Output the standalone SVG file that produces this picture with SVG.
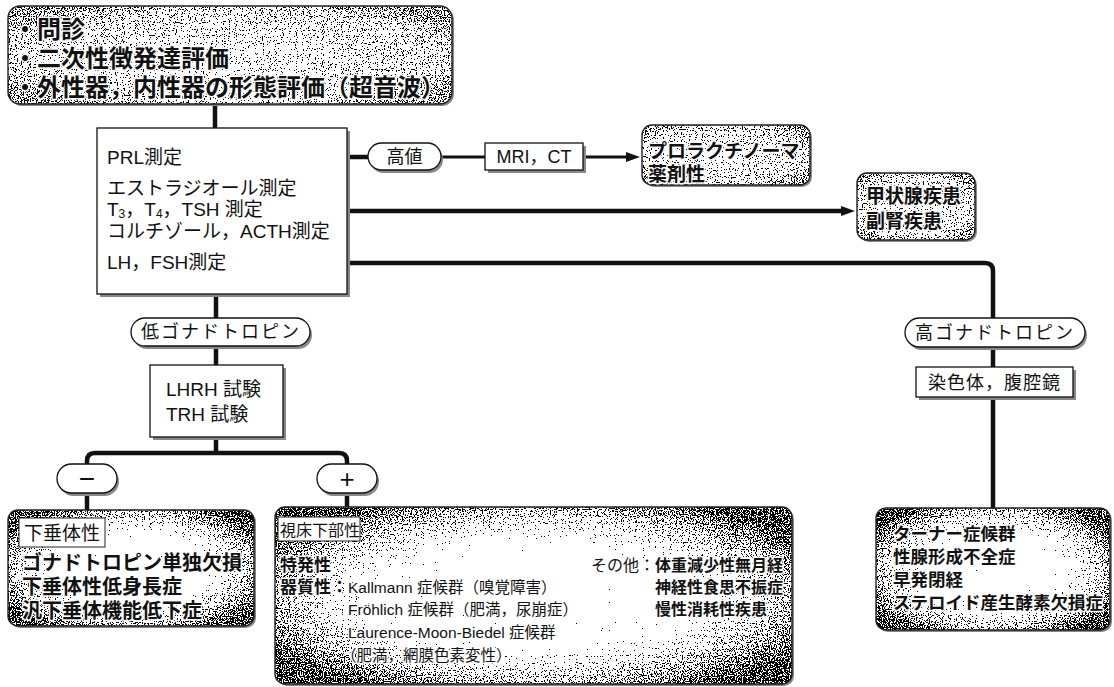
<svg xmlns="http://www.w3.org/2000/svg" width="1114" height="687" viewBox="0 0 1114 687">
<style>
text{font-family:"Liberation Sans","Noto Sans CJK JP",sans-serif;fill:#111}
.b{font-weight:bold}
.halo{stroke:#fff;stroke-width:3;paint-order:stroke;stroke-linejoin:round}
.box{fill:#fff;stroke:#111;stroke-width:1.3}
.shadow{fill:#888}
.frame{fill:none;stroke:#222;stroke-width:1.4}
.conn{fill:none;stroke:#111;stroke-width:4.5;stroke-linecap:butt}
.thin{stroke-width:3}
.mid{text-anchor:middle}
</style>
<defs>
<filter id="dither" x="0" y="0" width="1" height="1" color-interpolation-filters="sRGB">
<feTurbulence type="fractalNoise" baseFrequency="0.85" numOctaves="1" seed="4" result="n"/>
<feColorMatrix in="n" type="matrix" values="0 0 0 1.5 -0.25  0 0 0 1.5 -0.25  0 0 0 1.5 -0.25  0 0 0 0 1" result="nn"/>
<feComposite in="SourceGraphic" in2="nn" operator="arithmetic" k1="0" k2="1" k3="1" k4="-0.5" result="s"/>
<feComponentTransfer in="s" result="d">
<feFuncR type="discrete" tableValues="0 1"/>
<feFuncG type="discrete" tableValues="0 1"/>
<feFuncB type="discrete" tableValues="0 1"/>
<feFuncA type="linear" slope="0" intercept="1"/>
</feComponentTransfer>
<feComposite in="d" in2="SourceAlpha" operator="in"/>
</filter>
<radialGradient id="vigTop" cx="0.5" cy="0.5" r="0.6">
<stop offset="0" stop-color="#bababa"/>
<stop offset="0.8" stop-color="#a8a8a8"/>
<stop offset="1" stop-color="#8a8a8a"/>
</radialGradient>
<radialGradient id="vigBox" cx="0.5" cy="0.5" r="0.6">
<stop offset="0" stop-color="#ffffff"/>
<stop offset="0.45" stop-color="#eaeaea"/>
<stop offset="0.75" stop-color="#a8a8a8"/>
<stop offset="1" stop-color="#6c6c6c"/>
</radialGradient>
<marker id="arr" viewBox="0 0 14 10" refX="1" refY="5" markerWidth="14" markerHeight="10" markerUnits="userSpaceOnUse" orient="auto">
<path d="M0 0 L14 5 L0 10 Z" fill="#111"/>
</marker>
</defs>

<g id="connectors">
<path class="conn" d="M215 104 V128"/>
<path class="conn" d="M191 157 H368"/>
<path class="conn thin" d="M441 157 H485"/>
<path class="conn thin" d="M583 157 H627" marker-end="url(#arr)"/>
<path class="conn" d="M347 211 H842" marker-end="url(#arr)"/>
<path class="conn" d="M234 263 H985 Q993 263 993 271 V318"/>
<path class="conn" d="M993 347 V367"/>
<path class="conn" d="M993 397 V508"/>
<path class="conn" d="M216 294 V318"/>
<path class="conn" d="M216 346 V365"/>
<path class="conn" d="M216 437 V453"/>
<path class="conn" d="M87 464 V461 Q87 453 95 453 H339 Q347 453 347 461 V464"/>
<path class="conn" d="M87 493 V510"/>
<path class="conn" d="M347 493 V507"/>
</g>

<g id="n-top">
<rect x="10" y="8" width="444" height="98" rx="12" class="shadow"/>
<rect x="8" y="6" width="444" height="98" rx="12" fill="url(#vigTop)" filter="url(#dither)"/>
<rect x="8" y="6" width="444" height="98" rx="12" class="frame"/>
<text x="13" y="38" font-size="24" class="b halo">・問診</text>
<text x="13" y="67" font-size="24" class="b halo">・二次性徴発達評価</text>
<text x="13" y="96" font-size="24" class="b halo">・外性器，内性器の形態評価（超音波）</text>
</g>

<g id="n-measure">
<rect x="100" y="131" width="250" height="166" class="shadow"/>
<rect x="97" y="128" width="250" height="166" class="box"/>
<text x="107" y="164" font-size="19">PRL測定</text>
<text x="107" y="195" font-size="19">エストラジオール測定</text>
<text x="107" y="216" font-size="19">T<tspan font-size="12" dy="2">3</tspan><tspan dy="-2">，T</tspan><tspan font-size="12" dy="2">4</tspan><tspan dy="-2">，TSH 測定</tspan></text>
<text x="107" y="238" font-size="19">コルチゾール，ACTH測定</text>
<text x="107" y="269" font-size="19">LH，FSH測定</text>
</g>

<g id="n-high">
<rect x="370" y="146" width="73" height="27" rx="13.5" class="shadow"/>
<rect x="368" y="143" width="73" height="27" rx="13.5" class="box"/>
<text x="404.5" y="163" font-size="18" class="mid">高値</text>
</g>

<g id="n-mri">
<rect x="488" y="146" width="98" height="27" class="shadow"/>
<rect x="485" y="143" width="98" height="27" class="box"/>
<text x="534" y="163" font-size="18" class="mid">MRI，CT</text>
</g>

<g id="n-prolactinoma">
<rect x="644" y="127" width="168" height="60" rx="10" class="shadow"/>
<rect x="642" y="125" width="168" height="60" rx="10" fill="url(#vigTop)" filter="url(#dither)"/>
<rect x="642" y="125" width="168" height="60" rx="10" class="frame"/>
<text x="648" y="158" font-size="19" class="b halo">プロラクチノーマ</text>
<text x="648" y="181" font-size="19" class="b halo">薬剤性</text>
</g>

<g id="n-thyroid">
<rect x="859" y="175" width="118" height="67" rx="10" class="shadow"/>
<rect x="857" y="173" width="118" height="67" rx="10" fill="url(#vigTop)" filter="url(#dither)"/>
<rect x="857" y="173" width="118" height="67" rx="10" class="frame"/>
<text x="866" y="203" font-size="19" class="b halo">甲状腺疾患</text>
<text x="866" y="228" font-size="19" class="b halo">副腎疾患</text>
</g>

<g id="n-lowgn">
<rect x="133" y="321" width="179" height="28" rx="14" class="shadow"/>
<rect x="131" y="318" width="179" height="28" rx="14" class="box"/>
<text x="221" y="338" font-size="18" letter-spacing="2" class="mid">低ゴナドトロピン</text>
</g>

<g id="n-lhrh">
<rect x="153" y="368" width="133" height="72" class="shadow"/>
<rect x="150" y="365" width="133" height="72" class="box"/>
<text x="166" y="396" font-size="19">LHRH 試験</text>
<text x="166" y="421" font-size="19">TRH 試験</text>
</g>

<g id="n-minus">
<rect x="59" y="467" width="60" height="29" rx="14.5" class="shadow"/>
<rect x="57" y="464" width="60" height="29" rx="14.5" class="box"/>
<text x="87" y="488" font-size="28" class="mid">−</text>
</g>

<g id="n-plus">
<rect x="319" y="467" width="60" height="29" rx="14.5" class="shadow"/>
<rect x="317" y="464" width="60" height="29" rx="14.5" class="box"/>
<text x="347" y="488" font-size="26" class="mid">+</text>
</g>

<g id="n-pituitary">
<rect x="10" y="512" width="246" height="116" rx="10" class="shadow"/>
<rect x="8" y="510" width="246" height="116" rx="10" fill="url(#vigBox)" filter="url(#dither)"/>
<rect x="8" y="510" width="246" height="116" rx="10" class="frame"/>
<rect x="19" y="518" width="86" height="29" fill="#fff" stroke="#222" stroke-width="1"/>
<text x="24" y="540" font-size="19">下垂体性</text>
<text x="22" y="570" font-size="20" class="b halo">ゴナドトロピン単独欠損</text>
<text x="22" y="594" font-size="20" class="b halo">下垂体性低身長症</text>
<text x="22" y="618" font-size="20" class="b halo">汎下垂体機能低下症</text>
</g>

<g id="n-hypothalamic">
<rect x="277" y="509" width="517" height="177" rx="10" class="shadow"/>
<rect x="275" y="507" width="517" height="177" rx="10" fill="url(#vigBox)" filter="url(#dither)"/>
<rect x="275" y="507" width="517" height="177" rx="10" class="frame"/>
<rect x="278" y="517" width="82" height="24" fill="#fff" stroke="#222" stroke-width="1"/>
<text x="280" y="536" font-size="16">視床下部性</text>
<text x="280" y="571" font-size="17" class="b halo">特発性</text>
<text x="280" y="593" font-size="17" class="b halo">器質性：</text>
<text x="348" y="593" font-size="15.5" class="halo">Kallmann 症候群（嗅覚障害）</text>
<text x="348" y="615" font-size="15.5" class="halo">Fröhlich 症候群（肥満，尿崩症）</text>
<text x="348" y="638" font-size="15.5" class="halo">Laurence-Moon-Biedel 症候群</text>
<text x="341" y="661" font-size="15.5" class="halo">（肥満，網膜色素変性）</text>
<text x="591" y="571" font-size="16" class="halo">その他：<tspan class="b">体重減少性無月経</tspan></text>
<text x="655" y="593" font-size="16" class="b halo">神経性食思不振症</text>
<text x="655" y="615" font-size="16" class="b halo">慢性消耗性疾患</text>
</g>

<g id="n-highgn">
<rect x="907" y="321" width="180" height="29" rx="14.5" class="shadow"/>
<rect x="905" y="318" width="180" height="29" rx="14.5" class="box"/>
<text x="995" y="339" font-size="18" letter-spacing="2" class="mid">高ゴナドトロピン</text>
</g>

<g id="n-chromosome">
<rect x="919" y="370" width="157" height="30" class="shadow"/>
<rect x="916" y="367" width="157" height="30" class="box"/>
<text x="994.5" y="389" font-size="18" letter-spacing="1" class="mid">染色体，腹腔鏡</text>
</g>

<g id="n-gonadal">
<rect x="878" y="510" width="234" height="122" rx="10" class="shadow"/>
<rect x="876" y="508" width="234" height="122" rx="10" fill="url(#vigBox)" filter="url(#dither)"/>
<rect x="876" y="508" width="234" height="122" rx="10" class="frame"/>
<text x="893" y="540" font-size="17.5" class="b halo">ターナー症候群</text>
<text x="893" y="563" font-size="17.5" class="b halo">性腺形成不全症</text>
<text x="893" y="586" font-size="17.5" class="b halo">早発閉経</text>
<text x="893" y="609" font-size="17.5" class="b halo">ステロイド産生酵素欠損症</text>
</g>
</svg>
